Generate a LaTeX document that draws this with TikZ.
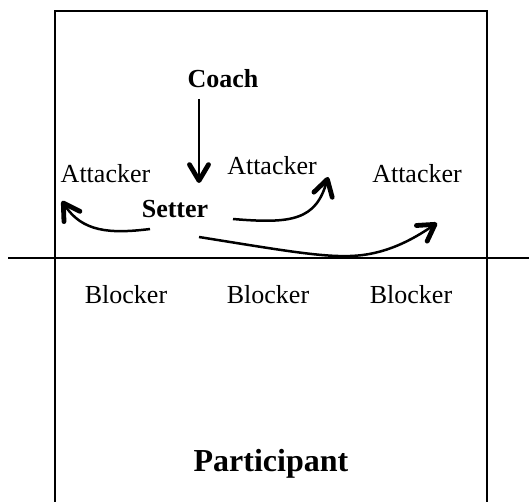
\documentclass[tikz,border=0pt]{standalone}
\usepackage{fontspec}
\setmainfont{Liberation Serif}
\usetikzlibrary{arrows.meta}
\tikzset{
  lbl/.style={anchor=base, inner sep=0pt, font=\fontsize{13}{15}\selectfont},
  blbl/.style={lbl, font=\fontsize{13}{15}\selectfont\bfseries},
  plbl/.style={lbl, font=\fontsize{16}{18}\selectfont\bfseries},
  court/.style={line width=1pt},
  pass/.style={line width=1.25pt, -{Straight Barb[length=8pt,width=9.5pt,line width=2.4pt,round]}}
}
\begin{document}
\begin{tikzpicture}[x=0.5pt,y=-0.5pt]
\useasboundingbox (0,0) rectangle (529,502);
% court
\draw[court] (55,520) -- (55,11) -- (487,11) -- (487,520);
\coordinate (netL) at (8,258);
\coordinate (netR) at (529,258);
\draw[court] (netL) -- (netR);
% labels
\node[blbl] (coach) at (223,88) {Coach};
\node[lbl] (attL) at (105.5,183) {Attacker};
\node[lbl] (attM) at (272,175) {Attacker};
\node[lbl] (attR) at (417,183) {Attacker};
\node[blbl] (setter) at (175,217) {Setter};
\node[lbl] (blk1) at (126,303) {Blocker};
\node[lbl] (blk2) at (268,303) {Blocker};
\node[lbl] (blk3) at (411,303) {Blocker};
\node[plbl] (part) at (271,471) {Participant};
% connectors
\coordinate (c1) at (199,99);
\coordinate (c2) at (199,183);
\draw[pass] (c1) -- (c2);
\coordinate (l1) at (150,229);
\coordinate (l2) at (62,201);
\draw[pass] (l1) .. controls (110,234) and (82,232) .. (l2);
\coordinate (m1) at (233,219);
\coordinate (m2) at (328,177);
\draw[pass] (m1) .. controls (292,224) and (316,220) .. (m2);
\coordinate (r1) at (199,237);
\coordinate (r2) at (437,223);
\draw[pass] (r1) .. controls (280,250) and (320,257) .. (350,256)
  .. controls (385,255) and (412,240) .. (r2);
\end{tikzpicture}
\end{document}
